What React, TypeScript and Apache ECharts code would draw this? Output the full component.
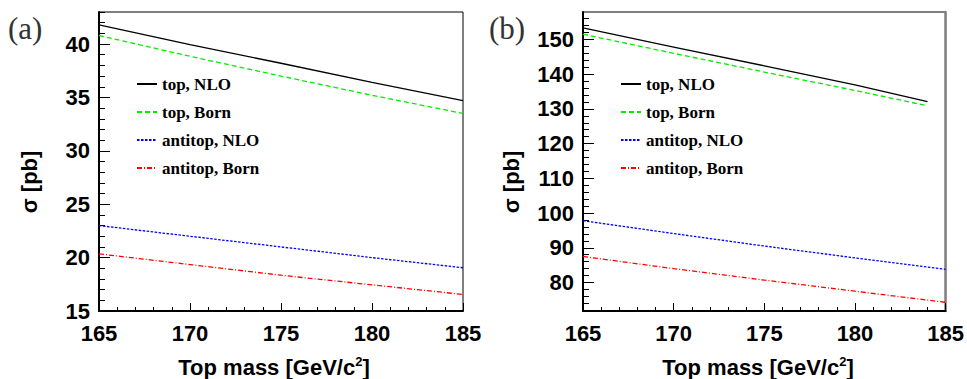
import React, { useEffect, useRef } from "react";
import * as echarts from "echarts";

// Top-quark mass scan, GeV/c^2
const massA = [165, 170, 175, 180, 185];
const topNloA = [41.8, 39.95, 38.2, 36.4, 34.7];
const topBornA = [40.8, 38.85, 37.0, 35.2, 33.5];
const antiNloA = [23.0, 22.0, 21.0, 20.0, 19.05];
const antiBornA = [20.35, 19.35, 18.35, 17.45, 16.55];

const massTopB = [165, 170, 175, 180, 184];
const massAntiB = [165, 170, 175, 180, 185];
const topNloB = [153.3, 147.8, 142.4, 136.9, 132.1];
const topBornB = [151.5, 146.0, 140.6, 135.3, 130.9];
const antiNloB = [97.8, 94.1, 90.5, 87.1, 83.8];
const antiBornB = [87.5, 84.0, 80.7, 77.5, 74.3];

const seriesNames = ["top, NLO", "top, Born", "antitop, NLO", "antitop, Born"];
const yMajorA = [15, 20, 25, 30, 35, 40];
const yMajorB = [80, 90, 100, 110, 120, 130, 140, 150];
const yRangeA = [15, 43];
const yRangeB = [71.8, 157.9];
const xRange = [165, 185];

const styles = [
  { color: "#000000", type: "solid" as any },
  { color: "#00ee00", type: [5, 3] },
  { color: "#0000ff", type: [2.5, 1.5] },
  { color: "#ff0000", type: [5, 2, 1, 2] },
];

const minorTicks = (lo: number, hi: number, step: number, majors: number[]) => {
  const out: number[] = [];
  for (let v = Math.ceil(lo / step) * step; v <= hi; v += step) {
    if (!majors.includes(v)) out.push(v);
  }
  return out;
};

const pairs = (xs: number[], ys: number[]) => xs.map((x, i) => [x, ys[i]]);

const labelFont = {
  fontFamily: "Liberation Sans, Arial, sans-serif",
  fontWeight: "bold" as const,
  fontSize: 22,
  color: "#000",
};

function xAxisFor(gridIndex: number) {
  return {
    type: "value",
    gridIndex,
    min: xRange[0],
    max: xRange[1],
    interval: 5,
    axisLine: { show: true, lineStyle: { color: "#000", width: 2 } },
    axisTick: { show: true, inside: true, length: 8, lineStyle: { color: "#000", width: 1 } },
    minorTick: { show: true, splitNumber: 5, length: 4, lineStyle: { color: "#000", width: 1 } },
    splitLine: { show: false },
    axisLabel: { ...labelFont, margin: 11 },
  };
}

function yAxesFor(gridIndex: number, range: number[], majors: number[], step: number) {
  return [
    {
      type: "value",
      gridIndex,
      position: "left",
      min: range[0],
      max: range[1],
      axisLine: { show: true, lineStyle: { color: "#000", width: 2 } },
      axisTick: {
        show: true,
        inside: true,
        length: 11,
        customValues: majors,
        lineStyle: { color: "#000", width: 1 },
      },
      splitLine: { show: false },
      axisLabel: { ...labelFont, margin: 9, customValues: majors },
    },
    {
      type: "value",
      gridIndex,
      position: "left",
      min: range[0],
      max: range[1],
      axisLine: { show: false },
      axisTick: {
        show: true,
        inside: true,
        length: 6,
        customValues: minorTicks(range[0], range[1], step, majors),
        lineStyle: { color: "#000", width: 1 },
      },
      splitLine: { show: false },
      axisLabel: { show: false },
    },
  ];
}

function lineSeries(
  name: string,
  idx: number,
  xAxisIndex: number,
  yAxisIndex: number,
  xs: number[],
  ys: number[]
) {
  return {
    type: "line",
    name,
    xAxisIndex,
    yAxisIndex,
    data: pairs(xs, ys),
    symbol: "none",
    smooth: false,
    lineStyle: { color: styles[idx].color, type: styles[idx].type, width: 1.3 },
    itemStyle: { color: styles[idx].color },
  };
}

function legendAt(left: number) {
  return {
    data: seriesNames,
    orient: "vertical",
    left,
    top: 74,
    padding: 0,
    itemWidth: 20,
    itemHeight: 14,
    itemGap: 8,
    selectedMode: false,
    // keep only the line sample, hide the marker drawn over it
    itemStyle: { color: "rgba(0,0,0,0)", borderWidth: 0, opacity: 0 },
    textStyle: {
      fontFamily: "Liberation Serif, Times New Roman, serif",
      fontWeight: "bold",
      fontSize: 17,
      color: "#000",
      lineHeight: 20,
    },
  };
}

const titleFont = {
  fontFamily: "Liberation Sans, Arial, sans-serif",
  fontWeight: "bold",
  fontSize: 22,
  fill: "#000",
};

function xTitle(cx: number) {
  return {
    type: "text",
    x: cx,
    y: 367,
    style: {
      text: "Top mass [GeV/c{sup|2}]",
      ...titleFont,
      align: "center",
      verticalAlign: "middle",
      rich: {
        sup: {
          fontFamily: "Liberation Sans, Arial, sans-serif",
          fontWeight: "bold",
          fontSize: 13,
          padding: [0, 0, 12, 0],
        },
      },
    },
  };
}

function yTitle(cx: number) {
  return {
    type: "text",
    x: cx,
    y: 182,
    rotation: Math.PI / 2,
    style: { text: "σ [pb]", ...titleFont, align: "center", verticalAlign: "middle" },
  };
}

function panelLabel(x: number, text: string) {
  return {
    type: "text",
    x,
    y: 28,
    style: {
      text,
      fontFamily: "Liberation Serif, Times New Roman, serif",
      fontSize: 31,
      fill: "#333",
      align: "left",
      verticalAlign: "middle",
    },
  };
}

const option = {
  animation: false,
  backgroundColor: "#fff",
  grid: [
    { left: 99, top: 12, width: 364, height: 299, show: true, borderColor: "#000", borderWidth: 1, backgroundColor: "transparent" },
    { left: 583, top: 12, width: 364, height: 299, show: true, borderColor: "#000", borderWidth: 1, backgroundColor: "transparent" },
  ],
  xAxis: [xAxisFor(0), xAxisFor(1)],
  yAxis: [
    ...yAxesFor(0, yRangeA, yMajorA, 1),
    ...yAxesFor(1, yRangeB, yMajorB, 2),
    {
      type: "value",
      gridIndex: 1,
      position: "right",
      min: yRangeB[0],
      max: yRangeB[1],
      axisLine: { show: true, lineStyle: { color: "#808080", width: 2.5 } },
      axisTick: { show: false },
      axisLabel: { show: false },
      splitLine: { show: false },
    },
  ],
  legend: [legendAt(136), legendAt(620)],
  series: [
    lineSeries(seriesNames[0], 0, 0, 0, massA, topNloA),
    lineSeries(seriesNames[1], 1, 0, 0, massA, topBornA),
    lineSeries(seriesNames[2], 2, 0, 0, massA, antiNloA),
    lineSeries(seriesNames[3], 3, 0, 0, massA, antiBornA),
    lineSeries(seriesNames[0], 0, 1, 2, massTopB, topNloB),
    lineSeries(seriesNames[1], 1, 1, 2, massTopB, topBornB),
    lineSeries(seriesNames[2], 2, 1, 2, massAntiB, antiNloB),
    lineSeries(seriesNames[3], 3, 1, 2, massAntiB, antiBornB),
  ],
  graphic: [
    panelLabel(8, "(a)"),
    panelLabel(489, "(b)"),
    xTitle(274),
    xTitle(758),
    yTitle(29),
    yTitle(511),
  ],
};

export default function App() {
  const ref = useRef<HTMLDivElement>(null);
  useEffect(() => {
    if (!ref.current) return;
    const chart = echarts.init(ref.current, null, { renderer: "svg" });
    chart.setOption(option as any);
    return () => chart.dispose();
  }, []);
  return (
    <div
      ref={ref}
      style={{ position: "fixed", left: 0, top: 0, width: 967, height: 379, background: "#fff" }}
    />
  );
}
